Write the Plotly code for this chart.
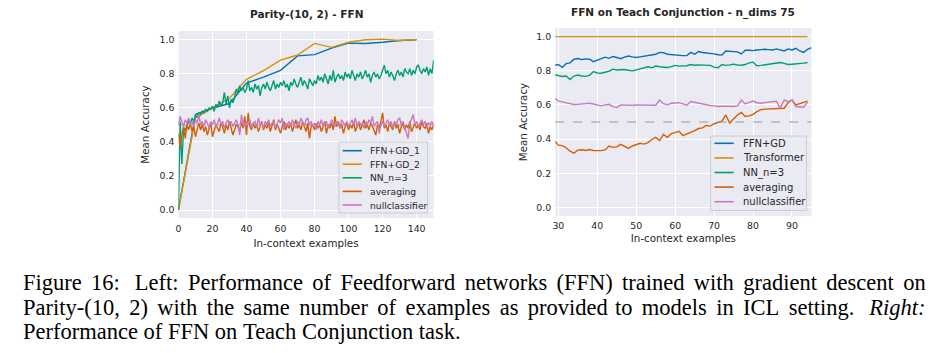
import plotly.graph_objects as go

# ---------------- data: left panel (Parity-(10, 2) - FFN) ----------------
left_title = "Parity-(10, 2) - FFN"
left_names = ["FFN+GD_1", "FFN+GD_2", "NN_n=3", "averaging", "nullclassifier"]

gd_x = [0, 10, 20, 30, 40, 50, 60, 70, 80, 90, 100, 110, 120, 130, 140]
gd1_acc = [0.0, 0.56, 0.60, 0.625, 0.745, 0.78, 0.82, 0.905, 0.912, 0.95,
           0.98, 0.978, 0.985, 0.995, 1.0]
gd2_acc = [0.0, 0.54, 0.60, 0.656, 0.767, 0.818, 0.88, 0.91, 0.978, 0.955,
           0.985, 1.0, 1.003, 0.995, 1.002]

left_x = list(range(0, 151))
nn_left = [0.00, 0.52, 0.27, 0.48, 0.47, 0.50, 0.52, 0.51, 0.54, 0.52, 0.55,
           0.55, 0.57, 0.56, 0.58, 0.57, 0.59, 0.58, 0.60, 0.59, 0.61,
           0.58, 0.62, 0.60, 0.64, 0.61, 0.63, 0.69, 0.62, 0.67, 0.60,
           0.65, 0.63, 0.66, 0.71, 0.68, 0.73, 0.70, 0.72, 0.69, 0.71,
           0.76, 0.70, 0.72, 0.69, 0.74, 0.71, 0.73, 0.67, 0.72, 0.74,
           0.71, 0.75, 0.72, 0.70, 0.73, 0.76, 0.71, 0.74, 0.72, 0.75,
           0.73, 0.76, 0.72, 0.74, 0.70, 0.75, 0.73, 0.77, 0.74, 0.72,
           0.75, 0.78, 0.73, 0.76, 0.74, 0.71, 0.77, 0.75, 0.73, 0.76,
           0.74, 0.79, 0.76, 0.78, 0.75, 0.80, 0.77, 0.74, 0.79, 0.76,
           0.82, 0.75, 0.78, 0.80, 0.77, 0.79, 0.76, 0.81, 0.78, 0.80,
           0.77, 0.82, 0.79, 0.76, 0.80, 0.78, 0.81, 0.77, 0.79, 0.82,
           0.78, 0.80, 0.75, 0.79, 0.81, 0.78, 0.80, 0.77, 0.79, 0.82,
           0.85, 0.80, 0.82, 0.78, 0.81, 0.79, 0.76, 0.80, 0.82, 0.79,
           0.81, 0.78, 0.83, 0.81, 0.80, 0.83, 0.79, 0.82, 0.80, 0.84,
           0.85, 0.82, 0.80, 0.83, 0.81, 0.84, 0.79, 0.83, 0.80, 0.88]
avg_left = [0.45, 0.37, 0.44, 0.49, 0.42, 0.50, 0.47, 0.51, 0.46, 0.49, 0.43,
            0.48, 0.51, 0.47, 0.50, 0.46, 0.49, 0.44, 0.48, 0.51, 0.43,
            0.47, 0.50, 0.48, 0.46, 0.51, 0.49, 0.45, 0.50, 0.47, 0.52,
            0.48, 0.44, 0.47, 0.50, 0.49, 0.46, 0.52, 0.48, 0.55, 0.44,
            0.57, 0.49, 0.47, 0.51, 0.48, 0.50, 0.46, 0.49, 0.52, 0.47,
            0.50, 0.48, 0.51, 0.46, 0.49, 0.53, 0.47, 0.50, 0.48, 0.45,
            0.49, 0.52, 0.47, 0.50, 0.48, 0.51, 0.46, 0.49, 0.53, 0.48,
            0.50, 0.47, 0.52, 0.49, 0.46, 0.51, 0.42, 0.49, 0.50, 0.47,
            0.51, 0.48, 0.50, 0.46, 0.49, 0.52, 0.45, 0.50, 0.48, 0.51,
            0.47, 0.55, 0.49, 0.52, 0.48, 0.50, 0.45, 0.49, 0.51, 0.47,
            0.50, 0.48, 0.52, 0.46, 0.49, 0.51, 0.47, 0.50, 0.53, 0.48,
            0.50, 0.47, 0.51, 0.49, 0.46, 0.44, 0.50, 0.48, 0.52, 0.57,
            0.48, 0.50, 0.46, 0.51, 0.49, 0.47, 0.52, 0.48, 0.50, 0.45,
            0.49, 0.51, 0.47, 0.50, 0.48, 0.52, 0.46, 0.49, 0.51, 0.48,
            0.50, 0.47, 0.52, 0.49, 0.48, 0.51, 0.45, 0.49, 0.47, 0.50]
null_left = [0.50, 0.55, 0.52, 0.49, 0.53, 0.51, 0.54, 0.50, 0.52, 0.49, 0.53,
             0.51, 0.56, 0.50, 0.52, 0.49, 0.53, 0.51, 0.48, 0.52, 0.50,
             0.53, 0.49, 0.51, 0.54, 0.50, 0.52, 0.48, 0.51, 0.53, 0.50,
             0.52, 0.49, 0.51, 0.53, 0.50, 0.44, 0.56, 0.51, 0.49, 0.52,
             0.50, 0.53, 0.48, 0.51, 0.52, 0.49, 0.54, 0.50, 0.51, 0.48,
             0.52, 0.50, 0.53, 0.49, 0.51, 0.52, 0.48, 0.50, 0.53, 0.51,
             0.54, 0.47, 0.51, 0.50, 0.52, 0.49, 0.53, 0.50, 0.48, 0.52,
             0.50, 0.54, 0.51, 0.49, 0.53, 0.54, 0.50, 0.52, 0.49, 0.51,
             0.47, 0.52, 0.50, 0.53, 0.49, 0.51, 0.52, 0.48, 0.50, 0.53,
             0.51, 0.49, 0.52, 0.50, 0.48, 0.53, 0.51, 0.50, 0.52, 0.49,
             0.51, 0.53, 0.50, 0.54, 0.49, 0.52, 0.50, 0.51, 0.48, 0.52,
             0.50, 0.53, 0.51, 0.55, 0.49, 0.51, 0.52, 0.45, 0.50, 0.52,
             0.49, 0.51, 0.53, 0.50, 0.52, 0.48, 0.51, 0.50, 0.53, 0.54,
             0.50, 0.52, 0.49, 0.46, 0.42, 0.51, 0.53, 0.56, 0.50, 0.52,
             0.49, 0.51, 0.53, 0.50, 0.52, 0.48, 0.51, 0.50, 0.52, 0.50]

# ---------------- data: right panel (Teach Conjunction) ----------------
right_title = "FFN on Teach Conjunction - n_dims 75"
right_names = ["FFN+GD", "Transformer", "NN_n=3", "averaging", "nullclassifier"]

right_x = list(range(29, 95))          # 29 .. 94
ffn_x = list(range(29, 96))            # 29 .. 95
ffn_gd = [0.83, 0.835, 0.818, 0.84, 0.845, 0.866, 0.87, 0.864, 0.868, 0.866,
          0.852, 0.86, 0.868, 0.878, 0.871, 0.882, 0.876, 0.869, 0.878, 0.885,
          0.88, 0.876, 0.88, 0.883, 0.886, 0.89, 0.895, 0.906, 0.904, 0.895,
          0.892, 0.889, 0.888, 0.887, 0.887, 0.906, 0.895, 0.911, 0.905, 0.903,
          0.90, 0.897, 0.892, 0.89, 0.914, 0.913, 0.911, 0.909, 0.897, 0.918,
          0.918, 0.916, 0.92, 0.924, 0.924, 0.922, 0.92, 0.926, 0.92, 0.914,
          0.926, 0.92, 0.93, 0.914, 0.906, 0.924, 0.934]
transformer = [0.998, 0.998, 0.999, 0.998, 0.998, 0.997, 0.998, 0.998, 0.999, 0.998,
               0.998, 0.998, 0.997, 0.998, 0.998, 0.999, 0.998, 0.998, 0.998, 0.998,
               0.997, 0.998, 0.998, 0.999, 0.998, 0.998, 0.998, 0.997, 0.998, 0.998,
               0.998, 0.999, 0.998, 0.998, 0.998, 0.998, 0.997, 0.998, 0.998, 0.999,
               0.998, 0.998, 0.998, 0.998, 0.997, 0.998, 0.998, 0.999, 0.998, 0.998,
               0.998, 0.998, 0.997, 0.998, 0.998, 0.999, 0.998, 0.998, 0.998, 0.998,
               0.997, 0.998, 0.998, 0.999, 0.998, 0.998]
nn_right = [0.776, 0.77, 0.765, 0.768, 0.748, 0.768, 0.774, 0.768, 0.766, 0.772,
            0.794, 0.786, 0.784, 0.79, 0.796, 0.808, 0.803, 0.805, 0.806, 0.802,
            0.798, 0.804, 0.81, 0.816, 0.822, 0.816, 0.826, 0.822, 0.82, 0.818,
            0.823, 0.83, 0.826, 0.827, 0.828, 0.835, 0.831, 0.833, 0.833, 0.831,
            0.83, 0.82, 0.816, 0.835, 0.83, 0.833, 0.837, 0.832, 0.831, 0.835,
            0.845, 0.849, 0.828, 0.83, 0.833, 0.837, 0.84, 0.845, 0.847, 0.842,
            0.835, 0.837, 0.838, 0.839, 0.843, 0.847]
avg_right = [0.39, 0.365, 0.362, 0.35, 0.33, 0.318, 0.336, 0.338, 0.334, 0.34,
             0.334, 0.332, 0.333, 0.337, 0.36, 0.352, 0.355, 0.37, 0.356, 0.346,
             0.36, 0.37, 0.376, 0.371, 0.38, 0.398, 0.41, 0.392, 0.428, 0.41,
             0.432, 0.438, 0.446, 0.42, 0.43, 0.436, 0.45, 0.462, 0.466, 0.48,
             0.476, 0.49, 0.496, 0.505, 0.541, 0.494, 0.518, 0.541, 0.556, 0.532,
             0.536, 0.545, 0.56, 0.572, 0.575, 0.576, 0.576, 0.576, 0.578, 0.58,
             0.612, 0.628, 0.6, 0.607, 0.618, 0.622]
null_right = [0.64, 0.622, 0.617, 0.612, 0.603, 0.602, 0.603, 0.604, 0.607, 0.609,
              0.605, 0.601, 0.594, 0.6, 0.603, 0.59, 0.584, 0.6, 0.598, 0.596,
              0.598, 0.6, 0.599, 0.598, 0.597, 0.598, 0.598, 0.628, 0.607, 0.6,
              0.609, 0.611, 0.613, 0.606, 0.598, 0.619, 0.614, 0.609, 0.604, 0.598,
              0.596, 0.594, 0.59, 0.592, 0.594, 0.592, 0.59, 0.594, 0.628, 0.605,
              0.614, 0.622, 0.612, 0.609, 0.613, 0.617, 0.62, 0.621, 0.581, 0.628,
              0.617, 0.628, 0.59, 0.588, 0.586, 0.617]

chance_level = 0.5
x_label = "In-context examples"
y_label = "Mean Accuracy"
left_xticks = [0, 20, 40, 60, 80, 100, 120, 140]
right_xticks = [30, 40, 50, 60, 70, 80, 90]
yticks = [0.0, 0.2, 0.4, 0.6, 0.8, 1.0]

# caption: each justified line split into a left-set and a right-set part
caption_lines = [
    ("Figure 16:  Left: Performance of Feedforward networks (FFN)",
     "trained with gradient descent on"),
    ("Parity-(10, 2) with the same number of examples as provided",
     "to models in ICL setting.  <i>Right:</i>"),
    ("Performance of FFN on Teach Conjunction task.", None),
]

# ---------------- styling ----------------
W, H = 949, 353
palette = ["#0173b2", "#de8f05", "#029e73", "#d55e00", "#cc78bc"]
TXT = "#262626"
BG = "#eaeaf2"
FONT = "DejaVu Sans"
LW = 1.4


def px_x(p):
    return p / W


def px_y(p):
    return 1 - p / H


fig = go.Figure()

left_series = [(gd_x, gd1_acc), (gd_x, gd2_acc), (left_x, nn_left),
               (left_x, avg_left), (left_x, null_left)]
right_series = [(ffn_x, ffn_gd), (right_x, transformer), (right_x, nn_right),
                (right_x, avg_right), (right_x, null_right)]

for (xs, ys), name, col in zip(left_series, left_names, palette):
    fig.add_trace(go.Scatter(x=xs, y=ys, mode="lines", name=name,
                             line=dict(color=col, width=LW),
                             xaxis="x", yaxis="y", showlegend=False))
for (xs, ys), name, col in zip(right_series, right_names, palette):
    fig.add_trace(go.Scatter(x=xs, y=ys, mode="lines", name=name,
                             line=dict(color=col, width=LW),
                             xaxis="x2", yaxis="y2", showlegend=False))

axis_common = dict(showgrid=True, gridcolor="white", gridwidth=1.2,
                   zeroline=False, showline=False, ticks="",
                   tickfont=dict(family=FONT, size=9.4, color=TXT),
                   title_font=dict(family=FONT, size=10.3, color=TXT))

L_dom_x = [px_x(176), px_x(432)]
L_dom_y = [px_y(218), px_y(31)]
R_dom_x = [px_x(554), px_x(811)]
R_dom_y = [px_y(216), px_y(28)]

fig.update_layout(
    width=W, height=H,
    margin=dict(l=0, r=0, t=0, b=0),
    paper_bgcolor="white", plot_bgcolor=BG,
    showlegend=False,
    font=dict(family=FONT, color=TXT),
    xaxis=dict(domain=L_dom_x, range=[0, 150], tickvals=left_xticks,
               anchor="y", title=dict(text=x_label, standoff=6),
               ticklabelstandoff=4, **axis_common),
    yaxis=dict(domain=L_dom_y, range=[-0.047, 1.051], tickvals=yticks,
               tickformat=".1f", anchor="x",
               title=dict(text=y_label, standoff=7),
               ticklabelstandoff=3, **axis_common),
    xaxis2=dict(domain=R_dom_x, range=[29.2, 95.0], tickvals=right_xticks,
                anchor="y2", title=dict(text=x_label, standoff=4),
                ticklabelstandoff=3, **axis_common),
    yaxis2=dict(domain=R_dom_y, range=[-0.048, 1.048], tickvals=yticks,
                tickformat=".1f", anchor="x2",
                title=dict(text=y_label, standoff=6),
                ticklabelstandoff=3, **axis_common),
)

shapes = []
annotations = []

# chance level reference lines
shapes.append(dict(type="line", xref="x domain", yref="y", x0=0, x1=1,
                   y0=chance_level, y1=chance_level, layer="below",
                   line=dict(color="#a8a8a8", width=1.2, dash="dash")))
shapes.append(dict(type="line", xref="x2 domain", yref="y2", x0=0, x1=1,
                   y0=chance_level, y1=chance_level, layer="above",
                   line=dict(color="#9a9a9a", width=1.2, dash="dash")))

# subplot titles
annotations.append(dict(text="<b>" + left_title + "</b>", x=px_x(304), y=px_y(14),
                        xref="paper", yref="paper", showarrow=False,
                        xanchor="center", yanchor="middle",
                        font=dict(family=FONT, size=10.5, color=TXT)))
annotations.append(dict(text="<b>" + right_title + "</b>", x=px_x(682), y=px_y(12),
                        xref="paper", yref="paper", showarrow=False,
                        xanchor="center", yanchor="middle",
                        font=dict(family=FONT, size=10.5, color=TXT)))


def legend_box(box, rows, sample, text_x, names, fsize):
    x0, y0, x1, y1 = box
    shapes.append(dict(type="rect", xref="paper", yref="paper",
                       x0=px_x(x0), x1=px_x(x1), y0=px_y(y1), y1=px_y(y0),
                       fillcolor="rgba(234,234,242,0.85)",
                       line=dict(color="#cccccc", width=1), layer="above"))
    for r, name, col in zip(rows, names, palette):
        shapes.append(dict(type="line", xref="paper", yref="paper",
                           x0=px_x(sample[0]), x1=px_x(sample[1]),
                           y0=px_y(r), y1=px_y(r), layer="above",
                           line=dict(color=col, width=1.6)))
        annotations.append(dict(text=name, x=px_x(text_x), y=px_y(r),
                                xref="paper", yref="paper", showarrow=False,
                                xanchor="left", yanchor="middle",
                                font=dict(family=FONT, size=fsize, color=TXT)))


legend_box((337, 142, 426, 213), [150.7, 164.2, 177.8, 191.4, 205.0],
           (340.7, 360), 366.5, left_names, 9.2)
legend_box((710, 136, 806, 210.5), [143.3, 157.9, 172.5, 187.1, 201.7],
           (713.7, 733), 740.5, right_names, 10)

# caption
NB = "\u00a0"
STRETCH = "\u2006"   # six-per-em space widens the inter-word gaps (justified look)


def stretch(s):
    return s.replace("  ", NB + NB + STRETCH).replace(" ", NB + STRETCH)


cap_font = dict(family="Liberation Serif", size=22.5, color="black")
cap_baselines = [290.0, 314.5, 339.0]
CAP_L, CAP_R = 18, 928
for (left_part, right_part), base in zip(caption_lines, cap_baselines):
    yc = px_y(base - 7.5)
    if right_part is None:
        annotations.append(dict(text=left_part.replace(" ", NB), x=px_x(CAP_L), y=yc,
                                xref="paper", yref="paper", showarrow=False,
                                xanchor="left", yanchor="middle", font=cap_font))
    else:
        annotations.append(dict(text=stretch(left_part), x=px_x(CAP_L), y=yc,
                                xref="paper", yref="paper", showarrow=False,
                                xanchor="left", yanchor="middle", font=cap_font))
        annotations.append(dict(text=stretch(right_part), x=px_x(CAP_R), y=yc,
                                xref="paper", yref="paper", showarrow=False,
                                xanchor="right", yanchor="middle", font=cap_font))

fig.update_layout(shapes=shapes, annotations=annotations)
fig.write_html("out.html")
